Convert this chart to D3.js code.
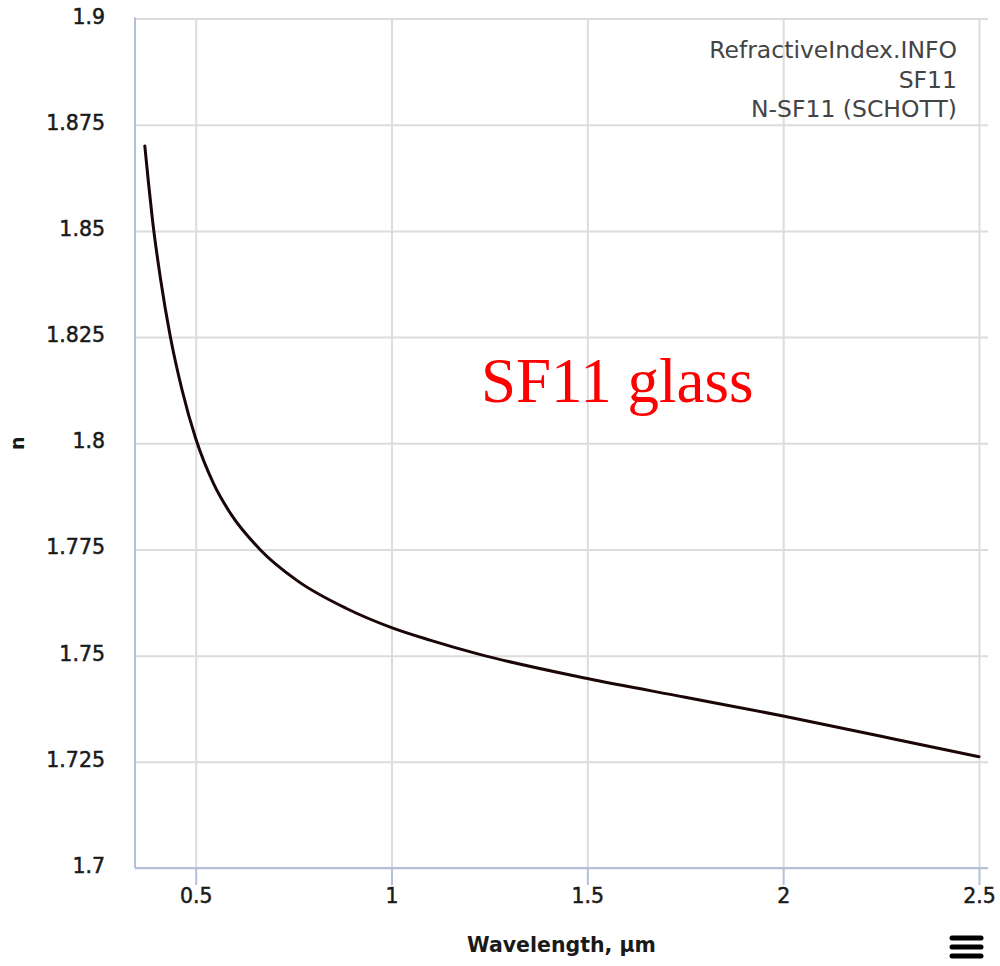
<!DOCTYPE html>
<html>
<head>
<meta charset="utf-8">
<script src="https://cdn.jsdelivr.net/npm/d3@7/dist/d3.min.js"></script>
<style>
  html, body { margin: 0; padding: 0; background: #fff; }
  svg { display: block; }
</style>
</head>
<body>
<svg id="chart" width="1000" height="966"></svg>
<script>
// Refractive index of SF11 glass vs wavelength
const wavelength = [0.37, 0.38, 0.39, 0.41, 0.435, 0.465, 0.5, 0.545, 0.59, 0.664, 0.76, 0.885, 1.0, 1.1, 1.225, 1.5, 1.75, 2.0, 2.25, 2.5];
const nValues    = [1.8700, 1.8608, 1.8523, 1.8388, 1.8252, 1.8126, 1.8011, 1.7906, 1.7833, 1.7750, 1.7676, 1.7611, 1.7566, 1.7536, 1.7503, 1.7446, 1.7402, 1.7358, 1.7310, 1.7262];

const xTicks = [0.5, 1, 1.5, 2, 2.5];
const xTickLabels = ["0.5", "1", "1.5", "2", "2.5"];
const yTicks = [1.7, 1.725, 1.75, 1.775, 1.8, 1.825, 1.85, 1.875, 1.9];
const yTickLabels = ["1.7", "1.725", "1.75", "1.775", "1.8", "1.825", "1.85", "1.875", "1.9"];

const creditLines = ["RefractiveIndex.INFO", "SF11", "N-SF11 (SCHOTT)"];
const xTitle = "Wavelength, µm";
const yTitle = "n";
const annotation = "SF11 glass";

const svg = d3.select("#chart");
const plotLeft = 135, plotRight = 988, plotTop = 18.5, plotBottom = 868;

const x = d3.scaleLinear().domain([0.345, 2.523]).range([plotLeft, plotRight]);
const y = d3.scaleLinear().domain([1.7, 1.9]).range([plotBottom, plotTop]);

// horizontal grid
svg.append("g")
  .attr("transform", `translate(${plotLeft},0)`)
  .call(d3.axisLeft(y).tickValues(yTicks).tickSize(-(plotRight - plotLeft)).tickFormat(""))
  .call(g => g.select(".domain").remove())
  .call(g => g.selectAll(".tick line").attr("stroke", "#dcdcdc").attr("stroke-width", 2));

// vertical grid
svg.append("g")
  .attr("transform", `translate(0,${plotBottom})`)
  .call(d3.axisBottom(x).tickValues(xTicks).tickSize(-(plotBottom - plotTop)).tickFormat(""))
  .call(g => g.select(".domain").remove())
  .call(g => g.selectAll(".tick line").attr("stroke", "#dcdcdc").attr("stroke-width", 2));

// y axis labels
svg.append("g")
  .attr("transform", `translate(${plotLeft},0)`)
  .call(d3.axisLeft(y).tickValues(yTicks).tickSize(0).tickPadding(30)
    .tickFormat((d, i) => yTickLabels[i]))
  .call(g => g.select(".domain").remove())
  .call(g => g.selectAll(".tick text")
    .attr("font-family", "DejaVu Sans").attr("font-size", 20.5)
    .attr("fill", "#1a1a1a").attr("stroke", "#1a1a1a").attr("stroke-width", 0.5)
    .attr("dy", "0.22em"));

// x axis with ticks
svg.append("g")
  .attr("transform", `translate(0,${plotBottom})`)
  .call(d3.axisBottom(x).tickValues(xTicks).tickSize(17).tickPadding(3)
    .tickFormat((d, i) => xTickLabels[i]))
  .call(g => g.select(".domain").remove())
  .call(g => g.selectAll(".tick line").attr("stroke", "#b4c0da").attr("stroke-width", 2))
  .call(g => g.selectAll(".tick text")
    .attr("font-family", "DejaVu Sans").attr("font-size", 20.5)
    .attr("fill", "#1a1a1a").attr("stroke", "#1a1a1a").attr("stroke-width", 0.5));

// axis lines
svg.append("line").attr("x1", plotLeft).attr("x2", plotLeft).attr("y1", plotTop - 1).attr("y2", plotBottom)
  .attr("stroke", "#b4c0da").attr("stroke-width", 2);
svg.append("line").attr("x1", plotLeft).attr("x2", plotRight).attr("y1", plotBottom).attr("y2", plotBottom)
  .attr("stroke", "#b4c0da").attr("stroke-width", 2);

// axis titles
svg.append("text")
  .attr("transform", `translate(24,${(plotTop + plotBottom) / 2}) rotate(-90)`)
  .attr("text-anchor", "middle")
  .attr("font-family", "DejaVu Sans").attr("font-weight", "bold").attr("font-size", 19)
  .attr("fill", "#1a1a1a")
  .text(yTitle);

svg.append("text")
  .attr("x", (plotLeft + plotRight) / 2).attr("y", 952)
  .attr("text-anchor", "middle")
  .attr("font-family", "DejaVu Sans").attr("font-weight", "bold").attr("font-size", 20.5)
  .attr("fill", "#1a1a1a")
  .text(xTitle);

// dispersion curve
const line = d3.line()
  .x((d, i) => x(wavelength[i]))
  .y(d => y(d))
  .curve(d3.curveMonotoneX);

svg.append("path")
  .datum(nValues)
  .attr("d", line)
  .attr("fill", "none")
  .attr("stroke", "#1a0606")
  .attr("stroke-width", 3)
  .attr("stroke-linejoin", "round")
  .attr("stroke-linecap", "round");

// credits
svg.append("g")
  .selectAll("text")
  .data(creditLines)
  .join("text")
  .attr("x", 957)
  .attr("y", (d, i) => 58 + i * 29.5)
  .attr("text-anchor", "end")
  .attr("font-family", "'Comic Sans MS', 'DejaVu Sans'")
  .attr("font-size", 23.5)
  .attr("fill", "#444")
  .text(d => d);

// annotation
svg.append("text")
  .attr("x", 481).attr("y", 402)
  .attr("font-family", "'Liberation Serif', 'Times New Roman', serif")
  .attr("font-size", 63)
  .attr("fill", "#ff0000")
  .text(annotation);

// menu icon
const menu = svg.append("g").attr("stroke", "#000").attr("stroke-width", 5).attr("stroke-linecap", "round");
[938, 947, 956].forEach(yy => {
  menu.append("line").attr("x1", 952).attr("x2", 981).attr("y1", yy).attr("y2", yy);
});
</script>
</body>
</html>
